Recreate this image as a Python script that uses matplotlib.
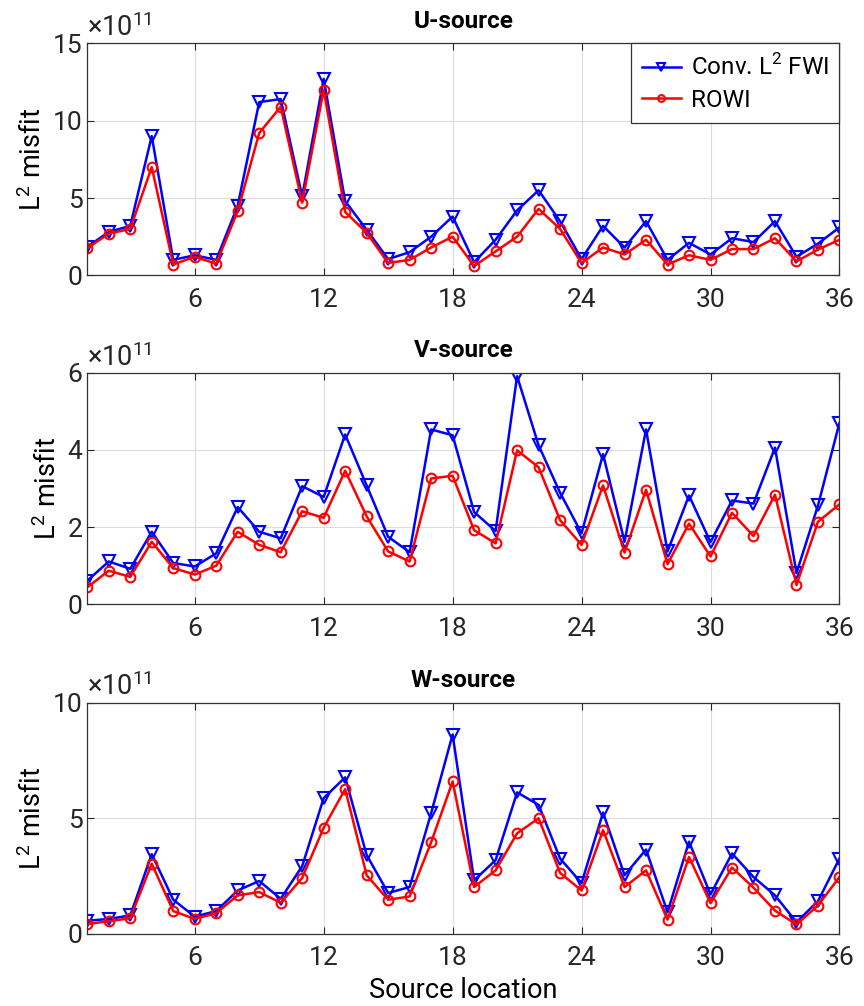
import numpy as np
import matplotlib
matplotlib.use('Agg')
from matplotlib import pyplot as plt

plt.rcParams['font.family'] = ['Roboto', 'DejaVu Sans']
plt.rcParams['mathtext.fontset'] = 'custom'
plt.rcParams['mathtext.rm'] = 'Roboto'

src = np.arange(1, 37)

# misfit values in units of 1e11
u_fwi = [1.85, 2.8, 3.2, 9.0, 1.0, 1.3, 1.0, 4.5, 11.2, 11.4, 5.1, 12.7,
         4.8, 2.95, 1.05, 1.5, 2.5, 3.8, 0.85, 2.3, 4.2, 5.5, 3.5, 1.05,
         3.2, 1.8, 3.5, 1.0, 2.1, 1.35, 2.4, 2.15, 3.5, 1.2, 2.05, 3.1]
u_rowi = [1.75, 2.7, 3.0, 7.0, 0.7, 1.2, 0.75, 4.15, 9.2, 10.9, 4.7, 12.0,
          4.1, 2.75, 0.8, 1.0, 1.8, 2.5, 0.6, 1.55, 2.5, 4.3, 3.0, 0.8,
          1.8, 1.35, 2.3, 0.7, 1.3, 1.0, 1.7, 1.7, 2.4, 0.9, 1.67, 2.3]

v_fwi = [0.61, 1.11, 0.92, 1.88, 1.07, 0.98, 1.32, 2.52, 1.88, 1.71, 3.06, 2.78,
         4.4, 3.08, 1.75, 1.35, 4.53, 4.38, 2.39, 1.9, 5.91, 4.12, 2.89, 1.84,
         3.89, 1.62, 4.53, 1.37, 2.82, 1.61, 2.69, 2.61, 4.06, 0.81, 2.56, 4.7]
v_rowi = [0.44, 0.87, 0.71, 1.62, 0.94, 0.77, 1.0, 1.88, 1.54, 1.35, 2.41, 2.24,
          3.46, 2.28, 1.37, 1.11, 3.26, 3.33, 1.92, 1.58, 3.99, 3.55, 2.18, 1.54,
          3.08, 1.34, 2.97, 1.04, 2.09, 1.24, 2.37, 1.77, 2.84, 0.5, 2.14, 2.59]

w_fwi = [0.57, 0.65, 0.8, 3.45, 1.48, 0.75, 0.99, 1.88, 2.29, 1.52, 2.93, 5.87,
         6.77, 3.41, 1.77, 2.03, 5.22, 8.62, 2.32, 3.19, 6.12, 5.58, 3.26, 2.2,
         5.25, 2.54, 3.65, 0.94, 3.99, 1.71, 3.48, 2.46, 1.67, 0.51, 1.42, 3.26]
w_rowi = [0.43, 0.55, 0.68, 3.04, 0.99, 0.65, 0.9, 1.67, 1.81, 1.35, 2.42, 4.59,
          6.26, 2.54, 1.48, 1.62, 3.96, 6.59, 2.03, 2.75, 4.35, 5.0, 2.64, 1.88,
          4.49, 2.03, 2.75, 0.62, 3.33, 1.33, 2.87, 2.0, 1.01, 0.41, 1.23, 2.46]

titles = ['U-source', 'V-source', 'W-source']
ylims = [15, 6, 10]
yticks = [[0, 5, 10, 15], [0, 2, 4, 6], [0, 5, 10]]
xticks = [6, 12, 18, 24, 30, 36]

fig = plt.figure(figsize=(8.64, 10.06), dpi=100)
boxes = [[0.101, 0.7263, 0.8706, 0.2306],
         [0.101, 0.3993, 0.8706, 0.2302],
         [0.101, 0.0716, 0.8706, 0.2300]]

data = [(u_fwi, u_rowi), (v_fwi, v_rowi), (w_fwi, w_rowi)]
for i, (fwi, rowi) in enumerate(data):
    ax = fig.add_axes(boxes[i])
    ax.plot(src, fwi, '-v', color='#0000ff', lw=1.8, ms=8, mfc='none', mew=1.5,
            label='Conv. L$^2$ FWI')
    ax.plot(src, rowi, '-o', color='#ff0000', lw=1.8, ms=7, mfc='none', mew=1.5,
            label='ROWI')
    ax.set_xlim(1, 36)
    ax.set_ylim(0, ylims[i])
    ax.set_xticks(xticks)
    ax.set_yticks(yticks[i])
    ax.grid(True, color='#dcdcdc', lw=0.8)
    ax.set_axisbelow(True)
    ax.tick_params(direction='in', labelsize=19, colors='#262626', length=5,
                   top=True, right=True)
    ax.tick_params(axis='x', pad=9)
    for sp in ax.spines.values():
        sp.set_color('#333333')
        sp.set_linewidth(0.9)
    ax.set_title(titles[i], fontsize=17.5, fontweight='bold', pad=11)
    ax.set_ylabel('L$^2$ misfit', fontsize=19.5, labelpad=4)
    ax.text(0.0, 1.005, r'$\times$10$^{11}$', transform=ax.transAxes,
            fontsize=19.5, color='#262626', va='bottom', ha='left')
    if i == 0:
        leg = ax.legend(loc='upper right', fontsize=17.5, fancybox=False,
                        framealpha=1, borderaxespad=0, handlelength=1.6,
                        handletextpad=0.4, borderpad=0.45, labelspacing=0.35,
                        markerscale=0.7)
        leg.get_frame().set_edgecolor('#333333')
        leg.get_frame().set_linewidth(0.9)
    if i == 2:
        ax.set_xlabel('Source location', fontsize=19.5, labelpad=5)

fig.savefig('out.png', dpi=100)
